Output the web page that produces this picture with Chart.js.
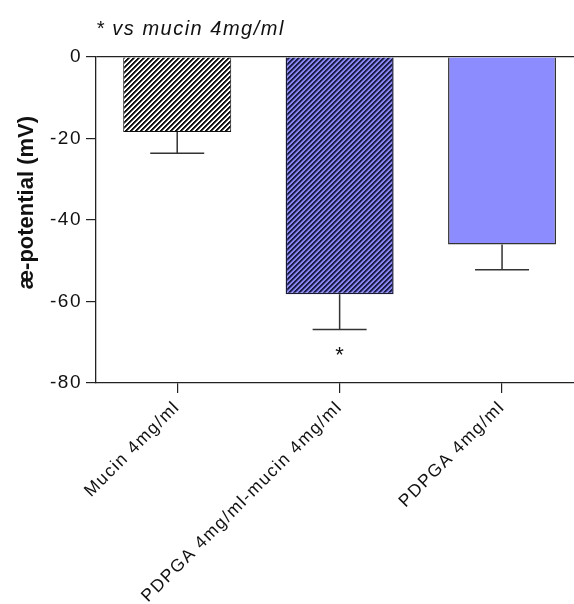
<!DOCTYPE html>
<html>
<head>
<meta charset="utf-8">
<script src="https://cdn.jsdelivr.net/npm/chart.js@4"></script>
<style>
  html, body { margin: 0; padding: 0; background: #fff; overflow: hidden; }
  canvas { display: block; }
</style>
</head>
<body>
<canvas id="chart" width="574" height="604"></canvas>
<script>
// Zeta potential of the three samples (mean and SEM, mV)
const categories = ['Mucin 4mg/ml', 'PDPGA 4mg/ml-mucin 4mg/ml', 'PDPGA 4mg/ml'];
const meanValues = [-18.4, -58.2, -46.0];
const semValues = [5.2, 8.7, 6.2];
const significance = ['', '*', ''];
const yTickValues = [0, -20, -40, -60, -80];
const noteText = '* vs mucin 4mg/ml';
const yTitleText = 'æ-potential (mV)';

const FAMILY = '"Liberation Sans", Arial, Helvetica, sans-serif';
Chart.defaults.font.family = FAMILY;
Chart.defaults.color = '#111';

// Diagonal hatch fill built from a small tile: dark stripe, soft edge, background
function hatch(bg, fg, edge) {
  const n = 5;
  const tile = document.createElement('canvas');
  tile.width = n; tile.height = n;
  const g = tile.getContext('2d');
  g.fillStyle = bg;
  g.fillRect(0, 0, n, n);
  for (let y = 0; y < n; y++) {
    for (let x = 0; x < n; x++) {
      const k = (x + y) % n;
      if (k < 2) { g.fillStyle = fg; g.fillRect(x, y, 1, 1); }
      else if (k === 2) { g.fillStyle = edge; g.fillRect(x, y, 1, 1); }
    }
  }
  return g.createPattern(tile, 'repeat');
}

const fills = [
  hatch('#ffffff', '#111111', '#6a6a6a'),
  hatch('#8686ee', '#1c1c48', '#4a4a98'),
  '#8c8cff'
];

// Slightly wider glyph spacing for axis and note text
const letterSpacing = {
  id: 'letterSpacing',
  beforeUpdate(chart) { chart.ctx.letterSpacing = '1.5px'; },
  beforeDraw(chart) { chart.ctx.letterSpacing = '1.5px'; }
};

// SEM whiskers below each bar and significance marks under them
const errorBars = {
  id: 'errorBars',
  afterDatasetsDraw(chart) {
    const { ctx } = chart;
    const y = chart.scales.y;
    const meta = chart.getDatasetMeta(0);
    ctx.save();
    ctx.letterSpacing = '0px';
    meta.data.forEach((bar, i) => {
      const yEnd = y.getPixelForValue(meanValues[i] - semValues[i]);
      const half = bar.width * 0.25;
      ctx.strokeStyle = '#333';
      ctx.lineWidth = 1.5;
      ctx.beginPath();
      ctx.moveTo(bar.x, bar.y);
      ctx.lineTo(bar.x, yEnd);
      ctx.moveTo(bar.x - half, yEnd);
      ctx.lineTo(bar.x + half, yEnd);
      ctx.stroke();
      if (significance[i]) {
        ctx.fillStyle = '#111';
        ctx.font = '22px ' + FAMILY;
        ctx.textAlign = 'center';
        ctx.textBaseline = 'alphabetic';
        ctx.fillText(significance[i], bar.x, yEnd + 32);
      }
    });
    ctx.restore();
  }
};

// Rotated y-axis title
const yTitle = {
  id: 'yTitle',
  afterDraw(chart) {
    const { ctx, chartArea } = chart;
    ctx.save();
    ctx.letterSpacing = '0px';
    ctx.translate(27, chartArea.top + chartArea.height * 0.447);
    ctx.rotate(-Math.PI / 2);
    ctx.font = 'bold 22px ' + FAMILY;
    ctx.fillStyle = '#111';
    ctx.textAlign = 'center';
    ctx.textBaseline = 'middle';
    ctx.fillText(yTitleText, 0, 0);
    ctx.restore();
  }
};

new Chart(document.getElementById('chart'), {
  type: 'bar',
  data: {
    datasets: [{
      data: meanValues.map((v, i) => ({ x: i, y: v })),
      backgroundColor: fills,
      borderColor: ['#111111', '#1a1a3a', '#333333'],
      borderWidth: [1, 1.5, 1.5],
      barPercentage: 0.665,
      categoryPercentage: 1
    }]
  },
  options: {
    responsive: false,
    animation: false,
    events: [],
    plugins: {
      legend: { display: false },
      tooltip: { enabled: false },
      title: {
        display: true,
        text: noteText,
        align: 'start',
        fullSize: false,
        color: '#111',
        font: { size: 20, style: 'italic', weight: 'normal' },
        padding: { top: 17, bottom: 16 }
      }
    },
    scales: {
      x: {
        type: 'linear',
        offset: false,
        min: -0.5,
        max: 2.443,
        afterBuildTicks: s => { s.ticks = categories.map((_, i) => ({ value: i })); },
        afterFit: s => { s.height = 221; },
        ticks: {
          callback: v => categories[v],
          minRotation: 45,
          maxRotation: 45,
          autoSkip: false,
          padding: 4,
          font: { size: 17.5 }
        },
        grid: { offset: false, drawOnChartArea: false, tickLength: 10, color: '#222', lineWidth: 1.2 },
        border: { color: '#222', width: 1.3 }
      },
      y: {
        min: -80,
        max: 0,
        afterBuildTicks: s => { s.ticks = yTickValues.map(v => ({ value: v })); },
        afterFit: s => { s.width = 96; },
        ticks: { padding: 4, font: { size: 19 } },
        grid: {
          color: c => (c.tick && c.tick.value === 0 ? '#222' : 'rgba(0,0,0,0)'),
          tickColor: '#222',
          tickLength: 10,
          lineWidth: 1.2
        },
        border: { color: '#222', width: 1.3 }
      }
    }
  },
  plugins: [letterSpacing, errorBars, yTitle]
});
</script>
</body>
</html>
